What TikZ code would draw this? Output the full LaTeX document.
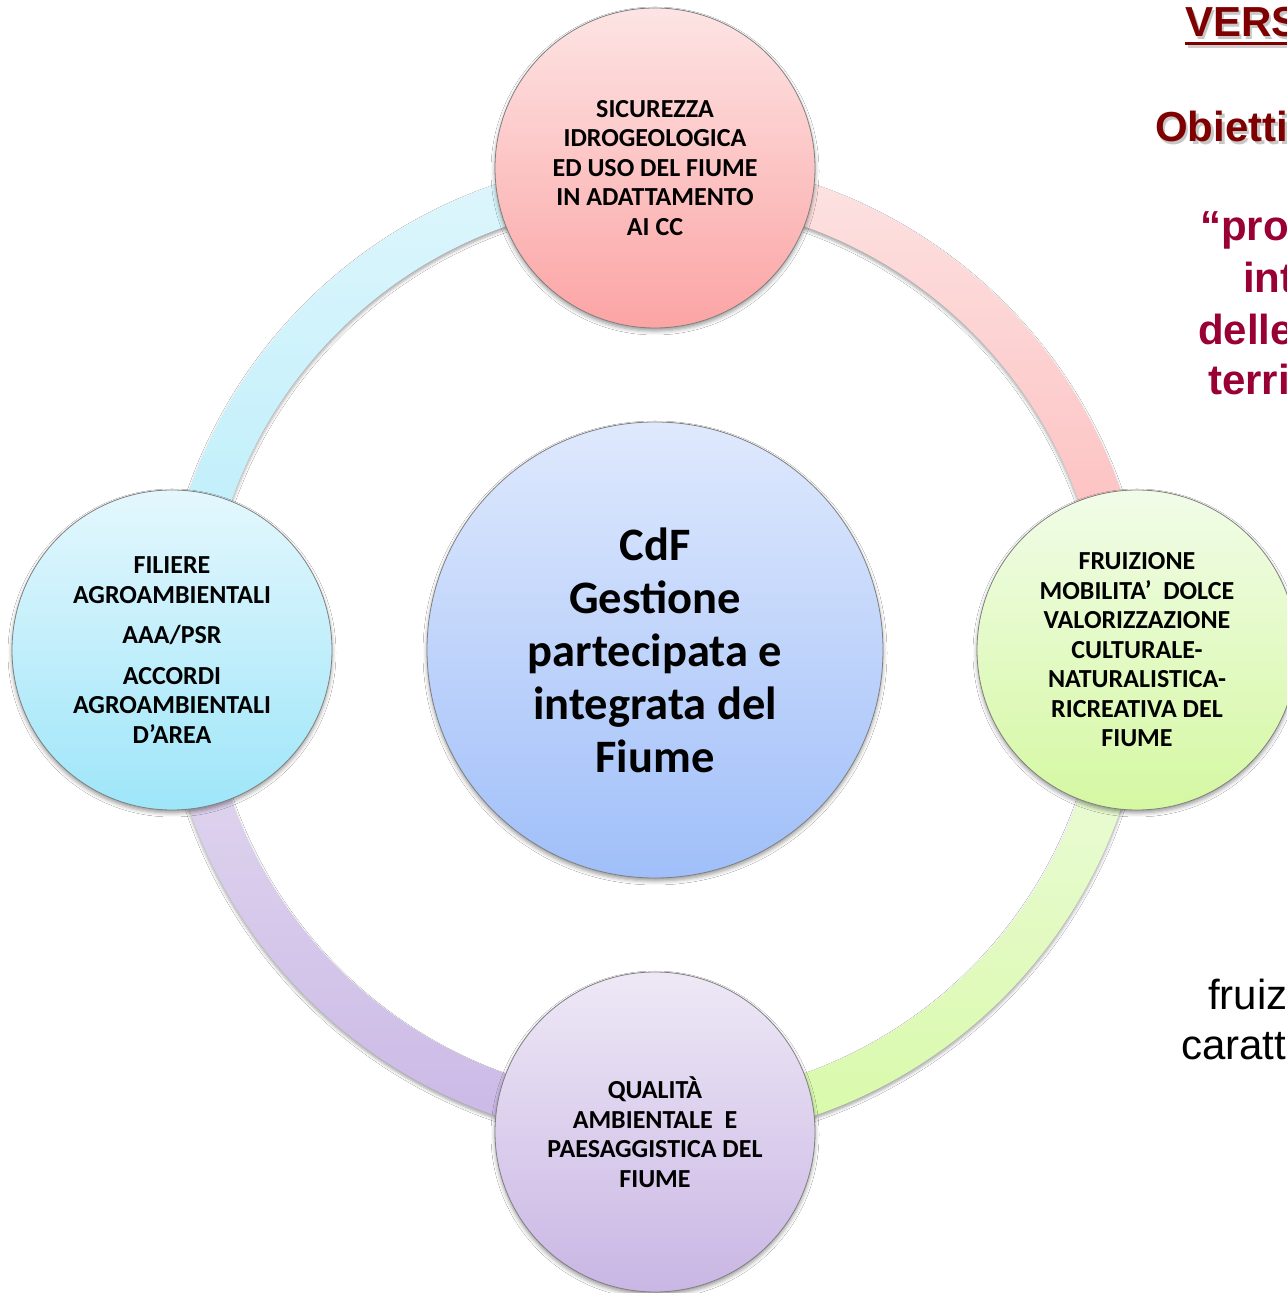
\documentclass[tikz,border=0pt]{standalone}
\usepackage{fontspec}
\setmainfont{Carlito}
\newfontfamily\arialf{Liberation Sans}
\usetikzlibrary{shadows.blur,calc}
\definecolor{darkred}{HTML}{7F0000}
\definecolor{crimson}{HTML}{990033}
\definecolor{pinkA}{HTML}{FDE3E3}\definecolor{pinkB}{HTML}{FDB6B6}
\definecolor{greenA}{HTML}{F0FBE4}\definecolor{greenB}{HTML}{D8FAA8}
\definecolor{purpA}{HTML}{E5DDF1}\definecolor{purpB}{HTML}{CAB8E6}
\definecolor{cyanA}{HTML}{DFF6FC}\definecolor{cyanB}{HTML}{B6EDFB}
\definecolor{cTopA}{HTML}{FDE4E4}\definecolor{cTopB}{HTML}{FCA4A4}
\definecolor{cLeftA}{HTML}{E4F7FD}\definecolor{cLeftB}{HTML}{9EE6F9}
\definecolor{cRightA}{HTML}{F1FCE8}\definecolor{cRightB}{HTML}{D5F8A2}
\definecolor{cBotA}{HTML}{EEE8F6}\definecolor{cBotB}{HTML}{C9B6E4}
\definecolor{cMidA}{HTML}{DFE9FD}\definecolor{cMidB}{HTML}{A0BFF9}
\begin{document}
\begin{tikzpicture}[x=1pt,y=1pt,
  ringarc/.style={blur shadow={shadow xshift=0pt,shadow yshift=-3pt,shadow blur radius=3pt,shadow opacity=35}},
  bubble/.style={circle, draw=black!50, line width=0.8pt, inner sep=0pt, align=center,
    minimum size=320pt, font=\bfseries\fontsize{26}{29.5}\selectfont,
    blur shadow={shadow xshift=0pt,shadow yshift=-3pt,shadow blur radius=4pt,shadow opacity=40}},
  bigbubble/.style={bubble, minimum size=456pt, font=\bfseries\fontsize{46.5}{53}\selectfont},
  rtext/.style={anchor=base west, inner sep=0pt, font=\arialf\bfseries\fontsize{42}{50}\selectfont},
  rplain/.style={anchor=base west, inner sep=0pt, font=\arialf\fontsize{42}{50}\selectfont},
  tshadow/.style={text=black!40, opacity=0.55}
]
\useasboundingbox (0,0) rectangle (1287,1293);
\fill[white] (0,0) rectangle (1287,1293);
\coordinate (ctr) at (655,643);

% ring segments
\shade[ringarc, top color=pinkA, bottom color=pinkB, shift={(ctr)}]
  (90:492) arc[start angle=90, end angle=0, radius=492] -- (0:449)
  arc[start angle=0, end angle=90, radius=449] -- cycle;
\shade[ringarc, top color=greenA, bottom color=greenB, shift={(ctr)}]
  (0:492) arc[start angle=0, end angle=-90, radius=492] -- (-90:449)
  arc[start angle=-90, end angle=0, radius=449] -- cycle;
\shade[ringarc, top color=purpA, bottom color=purpB, shift={(ctr)}]
  (-90:492) arc[start angle=-90, end angle=-180, radius=492] -- (180:449)
  arc[start angle=180, end angle=270, radius=449] -- cycle;
\shade[ringarc, top color=cyanA, bottom color=cyanB, shift={(ctr)}]
  (180:492) arc[start angle=180, end angle=90, radius=492] -- (90:449)
  arc[start angle=90, end angle=180, radius=449] -- cycle;

% circles
\node[bigbubble, top color=cMidA, bottom color=cMidB] (mid) at (ctr)
  {CdF\\Gestione\\partecipata e\\integrata del\\Fiume};
\node[bubble, top color=cTopA, bottom color=cTopB] (sic) at ($(ctr)+(90:482)$)
  {SICUREZZA\\IDROGEOLOGICA\\ED USO DEL FIUME\\IN ADATTAMENTO\\AI CC};
\node[bubble, top color=cRightA, bottom color=cRightB] (fru) at ($(ctr)+(0:482)$)
  {FRUIZIONE\\MOBILITA’\ \ DOLCE\\VALORIZZAZIONE\\CULTURALE-\\NATURALISTICA-\\RICREATIVA DEL\\FIUME};
\node[bubble, top color=cBotA, bottom color=cBotB] (qua) at ($(ctr)+(-90:482)$)
  {QUALITÀ\\AMBIENTALE\ \ E\\PAESAGGISTICA DEL\\FIUME};
\node[bubble, top color=cLeftA, bottom color=cLeftB] (fil) at ($(ctr)+(180:483)$)
  {FILIERE\\AGROAMBIENTALI\\[11pt]AAA/PSR\\[11pt]ACCORDI\\AGROAMBIENTALI\\D’AREA};

% right-hand text (cut by the page edge)
\node[rtext, tshadow] (versSh) at (1187.5,1253) {VERS};
\fill[black!35, opacity=0.55] (1187.5,1244.5) rectangle (1300,1248);
\node[rtext, text=darkred] (vers) at (1185,1256) {VERS};
\fill[darkred] ($(vers.base west)+(0,-8.5)$) rectangle ($(vers.base west)+(115,-5)$);
\node[rtext, tshadow] (obSh) at (1157.5,1148) {Obietti};
\node[rtext, text=darkred] (ob) at (1155,1151) {Obietti};
\node[rtext, text=crimson] (pro) at (1200,1052) {“pro};
\node[rtext, text=crimson] (int) at (1243,1000) {int};
\node[rtext, text=crimson] (delle) at (1198,948) {delle};
\node[rtext, text=crimson] (terri) at (1208,898) {terri};
\node[rplain] (fruiz) at (1208,283) {fruiz};
\node[rplain] (caratt) at (1181,233) {caratt};
\end{tikzpicture}
\end{document}
